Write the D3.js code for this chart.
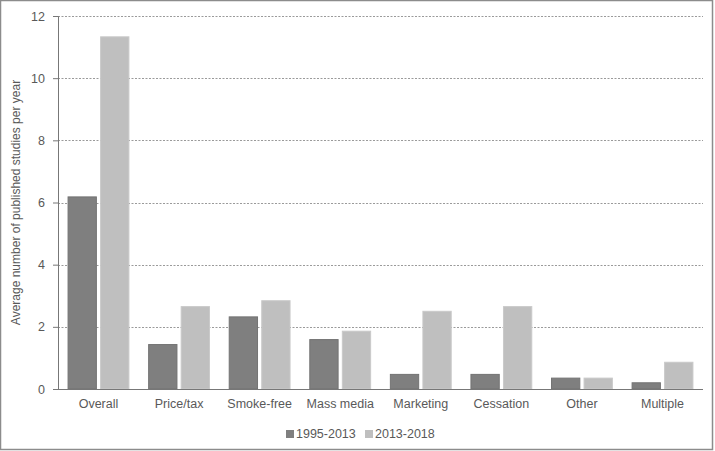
<!DOCTYPE html>
<html>
<head>
<meta charset="utf-8">
<script src="https://cdn.jsdelivr.net/npm/d3@7"></script>
<style>
  body { margin: 0; background: #fff; }
  svg { display: block; font-family: "Liberation Sans", Arial, sans-serif; }
</style>
</head>
<body>
<svg id="chart" width="715" height="451"></svg>
<script>
const categories = ['Overall', 'Price/tax', 'Smoke-free', 'Mass media', 'Marketing', 'Cessation', 'Other', 'Multiple']
const seriesNames = ['1995-2013', '2013-2018']
const early = [6.18, 1.43, 2.32, 1.59, 0.47, 0.47, 0.35, 0.2]
const late = [11.33, 2.65, 2.84, 1.86, 2.5, 2.65, 0.35, 0.86]
const yTicks = [0, 2, 4, 6, 8, 10, 12]
const colors = ['#7f7f7f', '#bfbfbf']

const svg = d3.select('#chart')
const W = 715, H = 451
const margin = { top: 16, right: 12, bottom: 62, left: 58 }

// outer frame
svg.append('rect')
  .attr('x', 0.5).attr('y', 0.5)
  .attr('width', W - 3).attr('height', H - 2)
  .attr('fill', 'none').attr('stroke', '#8c8c8c').attr('stroke-width', 1.5)

const x = d3.scaleBand().domain(categories).range([margin.left, W - margin.right]).paddingInner(0.245).paddingOuter(0.125)
const xs = d3.scaleBand().domain(seriesNames).range([0, x.bandwidth()]).paddingInner(0.13)
const y = d3.scaleLinear().domain([0, 12]).range([H - margin.bottom, margin.top])

// gridlines
svg.append('g').selectAll('line')
  .data(yTicks.filter(d => d > 0))
  .enter().append('line')
  .attr('x1', margin.left).attr('x2', W - margin.right)
  .attr('y1', d => Math.round(y(d)) + 0.5).attr('y2', d => Math.round(y(d)) + 0.5)
  .attr('stroke', '#9a9a9a').attr('stroke-width', 1).attr('stroke-dasharray', '2,1.5')

const rows = categories.map((c, i) => ({ cat: c, vals: [early[i], late[i]] }))

const gBars = svg.append('g')
gBars.selectAll('g')
  .data(rows)
  .enter().append('g')
  .attr('transform', d => `translate(${x(d.cat)},0)`)
  .selectAll('rect')
  .data(d => d.vals.map((v, i) => ({ s: seriesNames[i], v, i })))
  .enter().append('rect')
  .attr('x', d => xs(d.s))
  .attr('y', d => y(d.v))
  .attr('width', xs.bandwidth())
  .attr('height', d => y(0) - y(d.v))
  .attr('fill', d => colors[d.i])
  .attr('stroke', d => d.i === 0 ? '#737373' : '#c9c9c9')
  .attr('stroke-width', 1)

// y axis
const yAxis = svg.append('g')
  .attr('transform', `translate(${margin.left},0)`)
  .call(d3.axisLeft(y).tickValues(yTicks).tickSize(5).tickPadding(8))
yAxis.select('.domain').attr('stroke', '#777')
yAxis.selectAll('.tick line').attr('stroke', '#777')
yAxis.selectAll('.tick text').attr('fill', '#595959').attr('font-size', 12.5)

// x axis
const xAxis = svg.append('g')
  .attr('transform', `translate(0,${y(0)})`)
  .call(d3.axisBottom(x).tickSize(0).tickPadding(10))
xAxis.select('.domain').attr('stroke', '#777').attr('d', `M${margin.left},0.5H${W - margin.right}`)
xAxis.selectAll('.tick text').attr('fill', '#595959').attr('font-size', 12.5)

// y label
svg.append('text')
  .attr('transform', `translate(20,${(margin.top + y(0)) / 2}) rotate(-90)`)
  .attr('text-anchor', 'middle')
  .attr('fill', '#595959').attr('font-size', 12)
  .text('Average number of published studies per year')

// legend
const legend = svg.append('g').attr('transform', 'translate(286,434)')
const items = legend.selectAll('g')
  .data(seriesNames)
  .enter().append('g')
  .attr('transform', (d, i) => `translate(${i * 79},0)`)
items.append('rect')
  .attr('x', 0).attr('y', -4).attr('width', 8).attr('height', 8)
  .attr('fill', (d, i) => colors[i])
items.append('text')
  .attr('x', 10).attr('y', 0).attr('dy', '0.35em')
  .attr('fill', '#595959').attr('font-size', 12.5)
  .text(d => d)
</script>
</body>
</html>
